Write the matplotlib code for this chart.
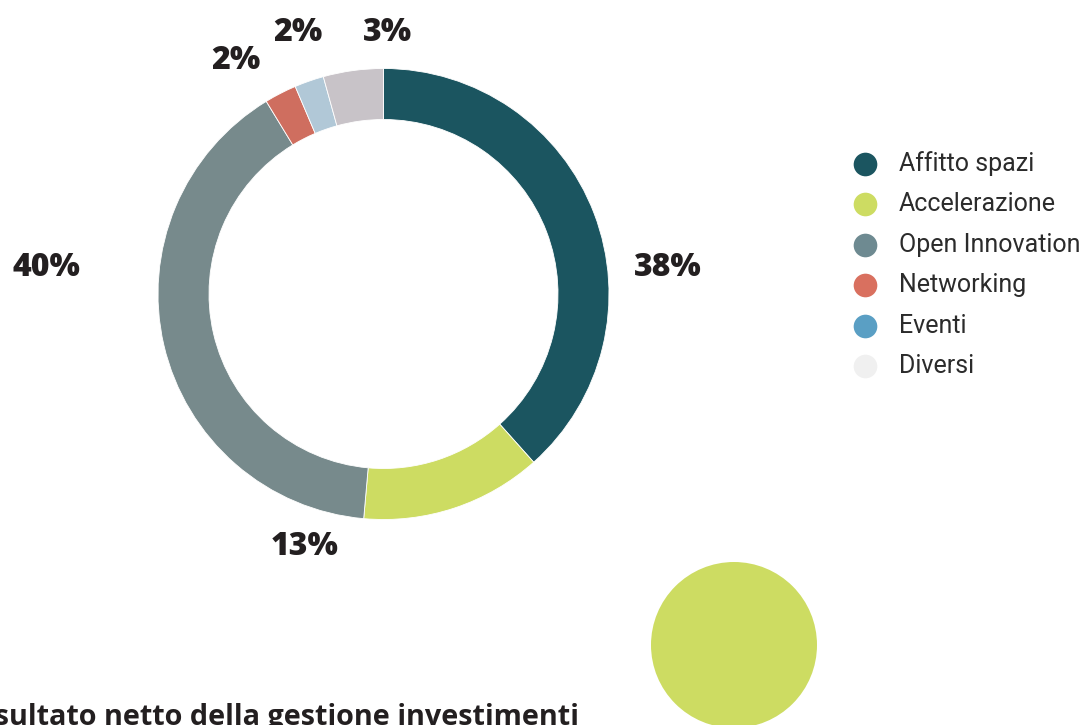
import matplotlib.pyplot as plt
from matplotlib.patches import Circle

# -- data ---------------------------------------------------------------
categories   = ['Affitto spazi', 'Accelerazione', 'Open Innovation',
                'Networking', 'Eventi', 'Diversi']
shares       = [38.4, 13.0, 39.9, 2.3, 2.1, 4.3]
share_labels = ['38%', '13%', '40%', '2%', '2%', '3%']
ring_colors  = ['#1b5560', '#cddc62', '#778a8c', '#cf6e5f', '#b1c8d7', '#c8c3c8']
legend_colors = ['#1b5560', '#cddc62', '#6e8a91', '#d9705f', '#5a9fc4', '#f0f0f0']
footer_text  = 'Risultato netto della gestione investimenti'

W, H = 1085, 725

fig = plt.figure(figsize=(W / 100, H / 100), dpi=100)
ax = fig.add_axes([0, 0, 1, 1])

# -- donut --------------------------------------------------------------
cx, cy, r_out, ring_w = 383.5, H - 294, 225.5, 51
ax.pie(shares, colors=ring_colors, startangle=90, counterclock=False,
       center=(cx, cy), radius=r_out,
       wedgeprops=dict(width=ring_w, linewidth=0.6, edgecolor='white'))

# percentage labels (placed by hand, as in the reference)
label_pos = [(668, 268), (305, 547), (46, 268), (236, 61), (298, 33), (387, 33)]
for (px, py), txt in zip(label_pos, share_labels):
    ax.text(px, H - py, txt, ha='center', va='center', fontsize=23,
            fontweight='heavy', family='Open Sans', color='#231f20')

# -- legend -------------------------------------------------------------
for i, (name, col) in enumerate(zip(categories, legend_colors)):
    y = H - (164 + i * 40.4)
    ax.scatter([865], [y], s=290, color=col, linewidths=0, zorder=3)
    ax.text(899, y, name, ha='left', va='center', fontsize=18,
            family='Roboto', color='#2b2b2b')

# -- decoration ---------------------------------------------------------
ax.add_patch(Circle((734, H - 645), 83, color='#cddc62', linewidth=0))
ax.text(579, H - 718, footer_text, ha='right', va='center', fontsize=20.7,
        fontweight='bold', family='Open Sans', color='#231f20')

ax.set_xlim(0, W)
ax.set_ylim(0, H)
ax.set_aspect('equal')
ax.axis('off')

fig.savefig('out.png', dpi=100, facecolor='white')
